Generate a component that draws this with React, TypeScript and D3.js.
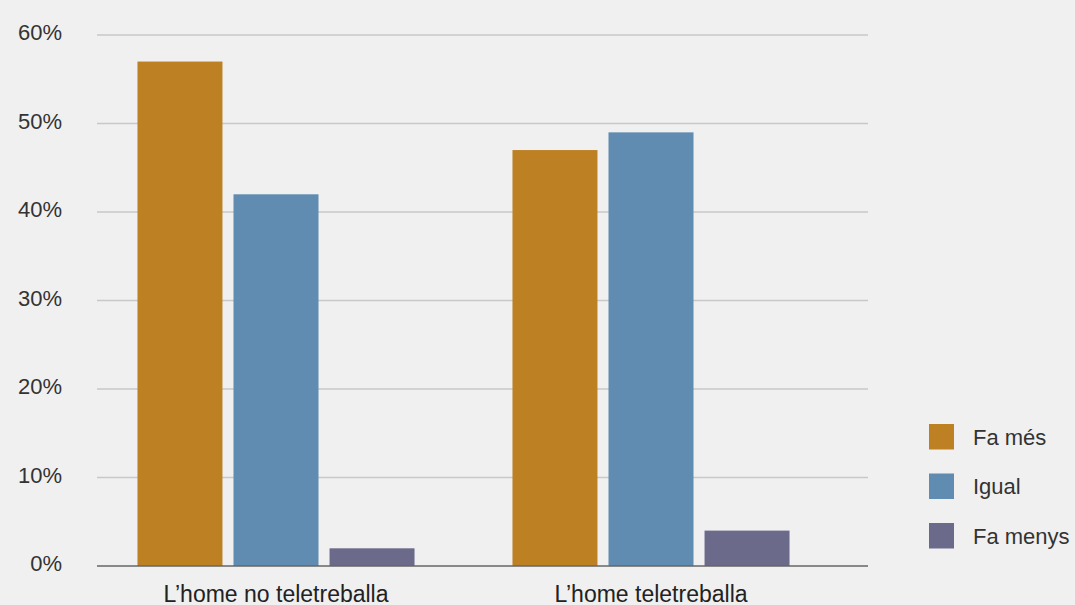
import React from "react";
import * as d3 from "d3";

const categories = ["L’home no teletreballa", "L’home teletreballa"];
const seriesNames = ["Fa més", "Igual", "Fa menys"];
const faMes = [57, 47];
const igual = [42, 49];
const faMenys = [2, 4];
const yTicks = [0, 10, 20, 30, 40, 50, 60];
const colors = ["#bd8023", "#5f8cb0", "#6c6a8a"];

const W = 1075;
const H = 605;
const FONT = "'Liberation Sans', Arial, sans-serif";

export default function App() {
  const values = [faMes, igual, faMenys];
  const y = d3.scaleLinear().domain([0, 60]).range([566, 35]);
  const x0 = d3.scaleBand<string>().domain(categories).range([88.5, 838.5]).paddingInner(0).paddingOuter(0);
  const x1 = d3
    .scaleBand<string>()
    .domain(seriesNames)
    .range([0, x0.bandwidth()])
    .paddingInner(0.115)
    .paddingOuter(0.51);
  const gridX0 = 97;
  const gridX1 = 868;

  return (
    <svg
      width={W}
      height={H}
      style={{ position: "fixed", top: 0, left: 0, background: "#f0f0f0" }}
      fontFamily={FONT}
    >
      <rect x={0} y={0} width={W} height={H} fill="#f0f0f0" />
      {yTicks.map((t) => (
        <g key={t}>
          {t > 0 && (
            <line x1={gridX0} x2={gridX1} y1={y(t)} y2={y(t)} stroke="#c8c8c8" strokeWidth={1.5} />
          )}
          <text x={62} y={y(t) - 2.5} dy="0.35em" textAnchor="end" fontSize={22} fill="#333">
            {t}%
          </text>
        </g>
      ))}
      {categories.map((c, ci) => (
        <g key={c} transform={`translate(${x0(c)},0)`}>
          {seriesNames.map((s, si) => (
            <rect
              key={s}
              x={x1(s)}
              y={y(values[si][ci])}
              width={x1.bandwidth()}
              height={y(0) - y(values[si][ci])}
              fill={colors[si]}
            />
          ))}
          <text x={x0.bandwidth() / 2} y={602} textAnchor="middle" fontSize={23} fill="#222">
            {c}
          </text>
        </g>
      ))}
      <line x1={gridX0} x2={gridX1} y1={y(0)} y2={y(0)} stroke="#666" strokeWidth={1.5} />
      {seriesNames.map((s, i) => (
        <g key={s} transform={`translate(929,${424 + i * 49.5})`}>
          <rect width={25} height={25.5} fill={colors[i]} />
          <text x={44} y={13} dy="0.35em" fontSize={22} fill="#333">
            {s}
          </text>
        </g>
      ))}
    </svg>
  );
}
